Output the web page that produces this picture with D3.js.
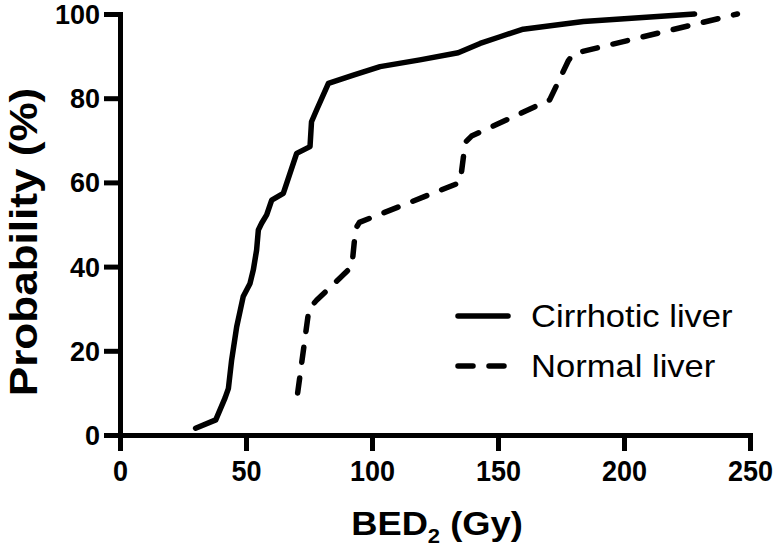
<!DOCTYPE html>
<html>
<head>
<meta charset="utf-8">
<script src="https://cdn.jsdelivr.net/npm/d3@7"></script>
<style>
html,body{margin:0;padding:0;background:#fff;}
svg{display:block;}
text{font-family:"Liberation Sans",Arial,Helvetica,sans-serif;fill:#000;}
</style>
</head>
<body>
<svg id="chart" width="780" height="550"></svg>
<script>
// ---- data ----
const cirrhoticBED = [30, 38, 41.7, 43, 44.3, 46.3, 48.9, 51.6, 52.9, 54.2, 54.9, 56.2, 58.2, 60.2, 64.8, 70.1, 75.4, 76, 78, 82.7, 92.6, 103.2, 119, 134.2, 142.9, 150.8, 160, 183.9, 228];
const cirrhoticProb = [1.6, 3.6, 8.8, 11, 17.8, 25.7, 32.9, 36, 39.2, 43.9, 48.7, 50.3, 52.3, 55.8, 57.4, 66.9, 68.5, 74.4, 77.2, 83.5, 85.5, 87.5, 89.1, 90.8, 93, 94.6, 96.4, 98.2, 100];
const normalBED = [70.5, 75, 78, 92, 93.5, 95, 135, 137, 139.5, 170.5, 178, 180, 245];
const normalProb = [10, 30, 32, 40, 49, 50.5, 60, 69.5, 71, 79.6, 89, 90.6, 100];
const xTicks = [0, 50, 100, 150, 200, 250];
const yTicks = [0, 20, 40, 60, 80, 100];
const seriesNames = ["Cirrhotic liver", "Normal liver"];

// ---- layout ----
const svg = d3.select("#chart");
const x = d3.scaleLinear().domain([0, 250]).range([120, 750]);
const y = d3.scaleLinear().domain([0, 100]).range([435, 14]);

const series = [
  {name: seriesNames[0], pts: cirrhoticBED.map((b, i) => [b, cirrhoticProb[i]]), dash: null},
  {name: seriesNames[1], pts: normalBED.map((b, i) => [b, normalProb[i]]), dash: "15,16"}
];

// axes
const xAxis = svg.append("g").attr("transform", `translate(0,${y(0)})`)
  .call(d3.axisBottom(x).tickValues(xTicks).tickSize(16).tickPadding(6).tickSizeOuter(0));
const yAxis = svg.append("g").attr("transform", `translate(${x(0)},0)`)
  .call(d3.axisLeft(y).tickValues(yTicks).tickSize(16).tickPadding(4).tickSizeOuter(0));
[xAxis, yAxis].forEach(g => {
  g.select(".domain").attr("stroke", "#000").attr("stroke-width", 5).attr("stroke-linecap", "square");
  g.selectAll(".tick line").attr("stroke", "#000").attr("stroke-width", 5);
  g.selectAll(".tick text").attr("font-family", '"Liberation Sans",Arial,sans-serif')
    .attr("font-weight", "bold").attr("fill", "#000");
});
// slight vertical stretch of the x tick labels as in the reference
xAxis.selectAll(".tick text").attr("font-size", 27).attr("y", 0).attr("dy", 0)
  .attr("transform", "translate(0,46) scale(1,1.1)");
yAxis.selectAll(".tick text").attr("font-size", 27).attr("x", -20).attr("dy", 0).attr("y", 9.5);

// lines
const line = d3.line().x(d => x(d[0])).y(d => y(d[1]));
series.forEach(s => {
  svg.append("path").datum(s.pts)
    .attr("d", line)
    .attr("fill", "none").attr("stroke", "#000").attr("stroke-width", 5.5)
    .attr("stroke-linejoin", "round").attr("stroke-linecap", "round")
    .attr("stroke-dasharray", s.dash);
});

// legend
const legend = svg.append("g");
series.forEach((s, i) => {
  const ly = 316 + i * 50;
  legend.append("line").attr("x1", 458).attr("x2", 508).attr("y1", ly).attr("y2", ly)
    .attr("stroke", "#000").attr("stroke-width", 5.5).attr("stroke-linecap", "round")
    .attr("stroke-dasharray", s.dash);
  legend.append("text").attr("transform", `translate(531,${ly + 11}) scale(1.08,1)`)
    .attr("font-size", 32).text(s.name);
});

// axis titles
const xt = svg.append("text").attr("transform", "translate(437,535) scale(1.1,1)")
  .attr("text-anchor", "middle").attr("font-weight", "bold").attr("font-size", 33);
xt.append("tspan").text("BED");
xt.append("tspan").attr("font-size", 20).attr("dy", 8).text("2");
xt.append("tspan").attr("dy", -8).text(" (Gy)");

svg.append("text").attr("transform", "translate(37,242) rotate(-90) scale(1.16,1)")
  .attr("text-anchor", "middle").attr("font-weight", "bold").attr("font-size", 38)
  .text("Probability (%)");
</script>
</body>
</html>
